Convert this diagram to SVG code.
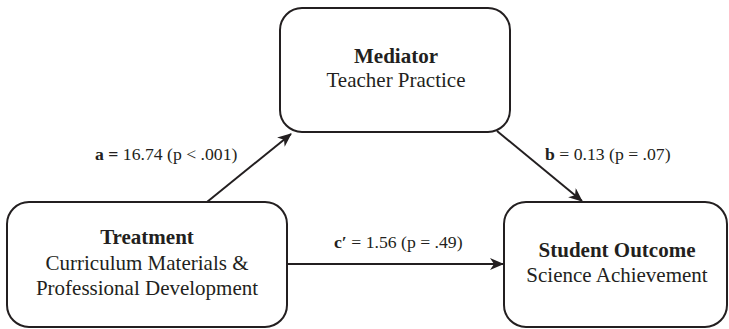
<svg xmlns="http://www.w3.org/2000/svg" width="729" height="329" viewBox="0 0 729 329">
<style>
.box{fill:#fff;stroke:#231f20;stroke-width:2}
.t{font-family:"Liberation Serif","Times New Roman",serif;fill:#231f20;text-anchor:middle}
.n{font-size:21px}
.b{font-weight:bold}
.lbl{font-family:"Liberation Serif","Times New Roman",serif;fill:#231f20;font-size:17.7px}
.edge{stroke:#231f20;stroke-width:2;fill:none;marker-end:url(#ah)}
</style>
<defs>
<marker id="ah" markerUnits="userSpaceOnUse" markerWidth="14" markerHeight="12" viewBox="0 0 14 12" refX="13" refY="6" orient="auto">
<path d="M0,0 L14,6 L0,12 L4,6 z" fill="#231f20"/>
</marker>
</defs>
<rect width="729" height="329" fill="#fff"/>
<g id="connectors">
<line class="edge" x1="207" y1="202" x2="291" y2="134"/>
<line class="edge" x1="497" y1="131" x2="582" y2="201"/>
<line class="edge" x1="287" y1="264" x2="503" y2="264"/>
<text class="lbl" x="95" y="160"><tspan class="b">a =</tspan> 16.74 (p &lt; .001)</text>
<text class="lbl" x="545" y="160"><tspan class="b">b</tspan> = 0.13 (p = .07)</text>
<text class="lbl" x="334" y="248"><tspan class="b">c′</tspan> = 1.56 (p = .49)</text>
</g>
<g id="mediator">
<rect class="box" x="280" y="8" width="230" height="124" rx="22"/>
<text class="t n b" x="396" y="63">Mediator</text>
<text class="t n" x="396" y="87">Teacher Practice</text>
</g>
<g id="treatment">
<rect class="box" x="7" y="202" width="280" height="125" rx="22"/>
<text class="t n b" x="147" y="244">Treatment</text>
<text class="t n" x="147" y="270">Curriculum Materials &amp;</text>
<text class="t n" x="147" y="295">Professional Development</text>
</g>
<g id="outcome">
<rect class="box" x="504" y="202" width="223" height="125" rx="22"/>
<text class="t n b" x="617" y="257">Student Outcome</text>
<text class="t n" x="617" y="282">Science Achievement</text>
</g>
</svg>
